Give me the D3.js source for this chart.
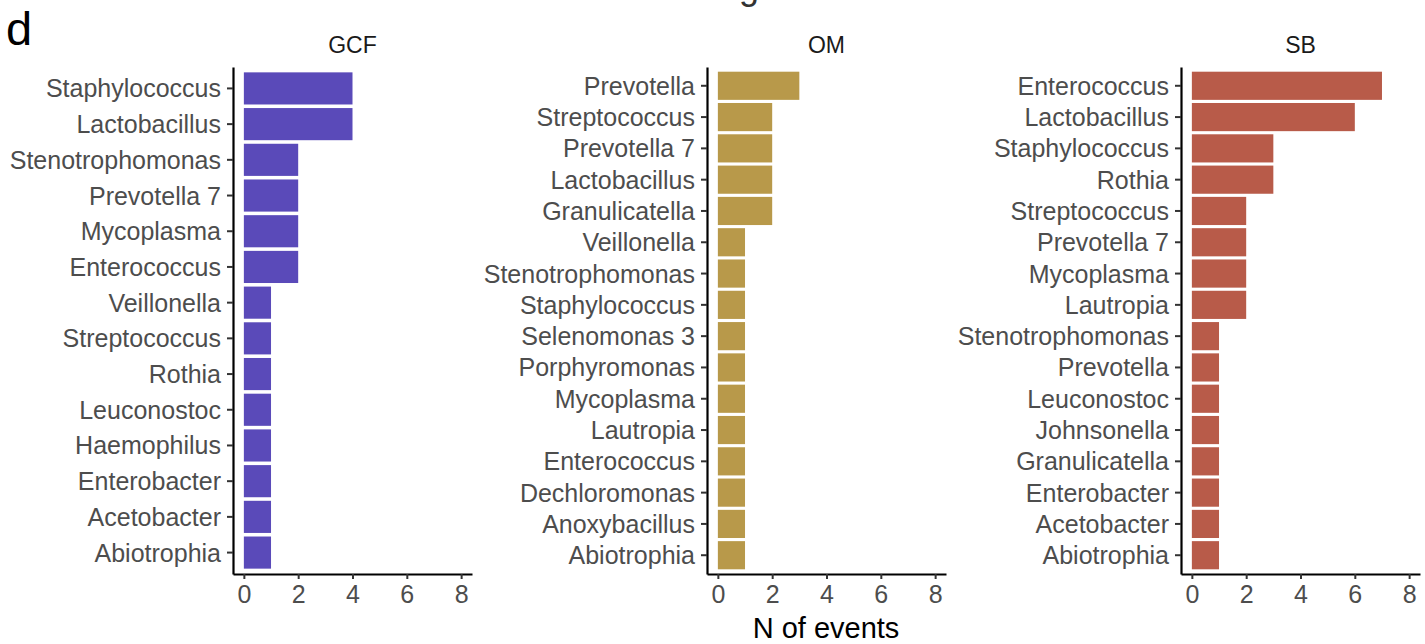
<!DOCTYPE html>
<html>
<head>
<meta charset="utf-8">
<script src="https://cdn.jsdelivr.net/npm/d3@7"></script>
<style>
  body { margin: 0; background: #fff; }
  text { font-family: "Liberation Sans", Arial, sans-serif; }
</style>
</head>
<body>
<div id="chart"></div>
<script>
var width = 1425
var height = 644

// one list of genera (top to bottom) and counts per panel
var gcfGenera = ["Staphylococcus", "Lactobacillus", "Stenotrophomonas", "Prevotella 7", "Mycoplasma",
  "Enterococcus", "Veillonella", "Streptococcus", "Rothia", "Leuconostoc", "Haemophilus",
  "Enterobacter", "Acetobacter", "Abiotrophia"]
var gcfCounts = [4, 4, 2, 2, 2, 2, 1, 1, 1, 1, 1, 1, 1, 1]

var omGenera = ["Prevotella", "Streptococcus", "Prevotella 7", "Lactobacillus", "Granulicatella",
  "Veillonella", "Stenotrophomonas", "Staphylococcus", "Selenomonas 3", "Porphyromonas",
  "Mycoplasma", "Lautropia", "Enterococcus", "Dechloromonas", "Anoxybacillus", "Abiotrophia"]
var omCounts = [3, 2, 2, 2, 2, 1, 1, 1, 1, 1, 1, 1, 1, 1, 1, 1]

var sbGenera = ["Enterococcus", "Lactobacillus", "Staphylococcus", "Rothia", "Streptococcus",
  "Prevotella 7", "Mycoplasma", "Lautropia", "Stenotrophomonas", "Prevotella", "Leuconostoc",
  "Johnsonella", "Granulicatella", "Enterobacter", "Acetobacter", "Abiotrophia"]
var sbCounts = [7, 6, 3, 3, 2, 2, 2, 2, 1, 1, 1, 1, 1, 1, 1, 1]

var panelNames = ["GCF", "OM", "SB"]
var panelColors = ["#5a4ab9", "#b8994a", "#b85b49"]
var xTicks = [0, 2, 4, 6, 8]

var panels = [
  { name: panelNames[0], genera: gcfGenera, counts: gcfCounts, color: panelColors[0], left: 233 },
  { name: panelNames[1], genera: omGenera, counts: omCounts, color: panelColors[1], left: 707 },
  { name: panelNames[2], genera: sbGenera, counts: sbCounts, color: panelColors[2], left: 1181 }
]

var plotTop = 67
var plotBottom = 574
var plotWidth = 239

var svg = d3.select("#chart").append("svg")
  .attr("width", width)
  .attr("height", height)

// panel letter
svg.append("text")
  .attr("x", 6)
  .attr("y", 45)
  .attr("font-size", 47)
  .attr("fill", "#000")
  .text("d")

// descender of a label cut off at the top edge
svg.append("text")
  .attr("x", 749)
  .attr("y", -1)
  .attr("text-anchor", "middle")
  .attr("font-size", 36)
  .attr("fill", "#333")
  .text("g")

panels.forEach(drawPanel)

function drawPanel(p) {
  var g = svg.append("g")

  var x = d3.scaleLinear()
    .domain([-0.4, 8.4])
    .range([p.left, p.left + plotWidth])

  var y = d3.scaleBand()
    .domain(p.genera)
    .range([plotTop, plotBottom])
    .paddingInner(0.1)
    .paddingOuter(0.15)

  var rows = p.genera.map(function(d, i) { return { genus: d, n: p.counts[i] } })

  g.selectAll("rect")
    .data(rows)
    .enter().append("rect")
    .attr("x", x(0))
    .attr("y", function(d) { return y(d.genus) })
    .attr("width", function(d) { return x(d.n) - x(0) })
    .attr("height", y.bandwidth())
    .attr("fill", p.color)

  var yAxis = g.append("g")
    .attr("transform", "translate(" + p.left + ",0)")
    .call(d3.axisLeft(y).tickSize(6).tickPadding(6).tickSizeOuter(0))
  var xAxis = g.append("g")
    .attr("transform", "translate(0," + plotBottom + ")")
    .call(d3.axisBottom(x).tickValues(xTicks).tickSize(5).tickPadding(6).tickSizeOuter(0))

  ;[yAxis, xAxis].forEach(function(a) {
    a.select(".domain").attr("stroke", "#000").attr("stroke-width", 2.2)
    a.selectAll(".tick line").attr("stroke", "#333").attr("stroke-width", 2)
    a.selectAll(".tick text")
      .attr("fill", "#4d4d4d")
      .attr("font-size", 25)
      .attr("font-family", "Liberation Sans, Arial, sans-serif")
  })
  yAxis.selectAll(".tick text").attr("dy", "0.36em")

  // panel strip title
  g.append("text")
    .attr("x", p.left + plotWidth / 2)
    .attr("y", 53)
    .attr("text-anchor", "middle")
    .attr("font-size", 23)
    .attr("fill", "#1a1a1a")
    .text(p.name)
}

svg.append("text")
  .attr("x", 826)
  .attr("y", 638)
  .attr("text-anchor", "middle")
  .attr("font-size", 29)
  .attr("fill", "#000")
  .text("N of events")
</script>
</body>
</html>
